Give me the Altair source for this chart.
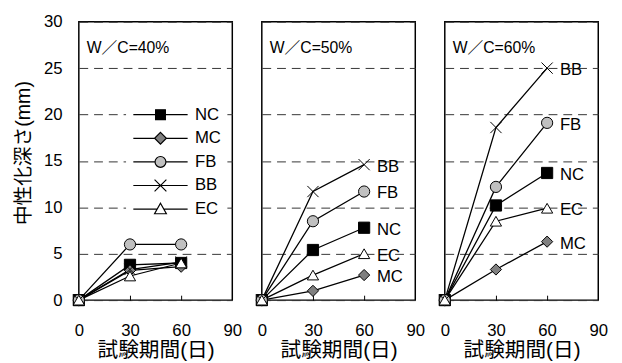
import altair as alt
import pandas as pd

days = [0, 30, 60]
series = ["NC", "MC", "FB", "BB", "EC"]
panel_labels = ["W／C=40%", "W／C=50%", "W／C=60%"]
wc40 = {"NC": [0, 3.8, 4.0], "MC": [0, 3.2, 3.6], "FB": [0, 6.0, 6.0],
        "BB": [0, 3.3, 4.1], "EC": [0, 2.6, 4.0]}
wc50 = {"NC": [0, 5.4, 7.8], "MC": [0, 1.0, 2.7], "FB": [0, 8.5, 11.7],
        "BB": [0, 11.7, 14.6], "EC": [0, 2.7, 5.0]}
wc60 = {"NC": [0, 10.2, 13.7], "MC": [0, 3.3, 6.3], "FB": [0, 12.2, 19.1],
        "BB": [0, 18.6, 25.0], "EC": [0, 8.5, 9.9]}
x_ticks = [0, 30, 60, 90]
inner_ticks = [30, 60]
y_ticks = [0, 5, 10, 15, 20, 25, 30]

fills = ["black", "#808080", "#c0c0c0", "transparent", "white"]
strokes = ["black", "black", "black", "black", "black"]
shapes = ["square", "diamond", "circle", "M-1,-1L1,1M-1,1L1,-1", "triangle-up"]
# legend symbols: a line with the marker in the middle
legend_paths = [
    "M-4.6,0H-0.83M0.83,0H4.6M-0.83,-0.83H0.83V0.83H-0.83Z",
    "M-4.6,0H-1M1,0H4.6M0,-1L1,0L0,1L-1,0Z",
    "M-4.6,0H-0.92M0.92,0H4.6M-0.92,0A0.92,0.92,0,1,0,0.92,0A0.92,0.92,0,1,0,-0.92,0Z",
    "M-4.6,0H4.6M-1,-1L1,1M-1,1L1,-1",
    "M-4.6,0H-0.56M0.56,0H4.6M0,-1L1,0.78L-1,0.78Z",
]

FONT = "Liberation Sans, Noto Sans CJK JP, sans-serif"


def panel(values, label, first):
    rows = [{"day": d, "depth": v, "series": s}
            for s in series for d, v in zip(days, values[s])]
    df = pd.DataFrame(rows)
    base = alt.Chart(df)

    y_kwargs = dict(values=y_ticks, grid=True, gridDash=[9, 6], gridColor="#333",
                    gridWidth=1, domain=False, ticks=False, labels=first,
                    labelFontSize=17, labelPadding=17, labelFlush=False,
                    labelColor="black", labelFont=FONT)
    if first:
        y_axis = alt.Axis(title="中性化深さ(mm)", titleFontSize=20, titlePadding=10,
                          titleFont=FONT, titleFontWeight="normal", titleColor="black",
                          titleY=133, **y_kwargs)
    else:
        y_axis = alt.Axis(title=None, **y_kwargs)
    y_scale = alt.Scale(domain=[0, 30], nice=False)
    y_enc = alt.Y("depth:Q", scale=y_scale, axis=y_axis)

    label_axis = alt.Axis(values=x_ticks, orient="bottom", domain=False, ticks=False,
                          grid=False, labelFontSize=17, labelPadding=23, labelFlush=False,
                          labelColor="black", labelFont=FONT,
                          title="試験期間(日)", titleFontSize=21, titlePadding=1,
                          titleFont=FONT, titleFontWeight="normal", titleColor="black")
    tick_axis = alt.Axis(values=inner_ticks, orient="bottom", domain=False, ticks=True,
                         tickSize=5, tickColor="black", tickWidth=1, labels=False,
                         grid=False, offset=-5, title=None)
    x_scale = alt.Scale(domain=[0, 90], nice=False)

    lines = base.mark_line(color="black", strokeWidth=1.3).encode(
        x=alt.X("day:Q", scale=x_scale, axis=label_axis),
        y=y_enc,
        detail="series:N",
    )

    points = base.mark_point(filled=True, stroke="black", strokeWidth=1, size=130,
                             opacity=1).encode(
        x=alt.X("day:Q", scale=x_scale, axis=tick_axis),
        y=y_enc,
        fill=alt.Fill("series:N", scale=alt.Scale(domain=series, range=fills),
                      legend=None),
        shape=alt.Shape("series:N", scale=alt.Scale(domain=series, range=shapes),
                        legend=None),
    )

    title_text = alt.Chart(pd.DataFrame({"t": [label]})).mark_text(
        align="left", baseline="middle", fontSize=16, font=FONT, color="black"
    ).encode(x=alt.value(8), y=alt.value(27), text="t:N")

    layers = [lines, points, title_text]
    if first:
        legend = alt.Legend(orient="none", legendX=48, legendY=80, title=None,
                            fillColor="white", padding=6, labelFontSize=17,
                            labelFont=FONT, labelColor="black",
                            symbolOffset=20.5, labelOffset=26.5, rowPadding=6,
                            symbolSize=144, symbolStrokeColor="black",
                            symbolStrokeWidth=1.2, symbolOpacity=1)
        legend_layer = base.transform_filter("false").mark_point(
            filled=True, strokeWidth=1.2, size=144, opacity=1
        ).encode(
            x=alt.X("day:Q", scale=x_scale, axis=None),
            y=y_enc,
            fill=alt.Fill("series:N", scale=alt.Scale(domain=series, range=fills),
                          legend=legend),
            stroke=alt.Stroke("series:N", scale=alt.Scale(domain=series, range=strokes),
                              legend=legend),
            shape=alt.Shape("series:N",
                            scale=alt.Scale(domain=series, range=legend_paths),
                            legend=legend),
        )
        layers.append(legend_layer)
    else:
        ends = base.transform_filter(alt.datum.day == 60).mark_text(
            align="left", baseline="middle", dx=13, dy=2, fontSize=17, font=FONT,
            color="black"
        ).encode(x=alt.X("day:Q", scale=x_scale, axis=None), y=y_enc, text="series:N")
        layers.append(ends)

    out = alt.layer(*layers).resolve_axis(x="independent")
    if first:
        out = out.resolve_scale(fill="independent", shape="independent",
                                stroke="independent")
    return out.properties(width=156, height=283)


p1 = panel(wc40, panel_labels[0], True)
p2 = panel(wc50, panel_labels[1], False)
p3 = panel(wc60, panel_labels[2], False)

chart = alt.hconcat(p1, p2, p3, spacing=30, bounds="flush").resolve_scale(
    fill="independent", shape="independent", stroke="independent"
).resolve_legend(
    fill="independent", shape="independent", stroke="independent"
).configure_view(
    stroke="black", strokeWidth=1.5
).properties(
    padding={"top": 1, "left": 5, "right": 5, "bottom": 0}
)

chart.save("out.html", embed_options={"renderer": "svg", "actions": False})
